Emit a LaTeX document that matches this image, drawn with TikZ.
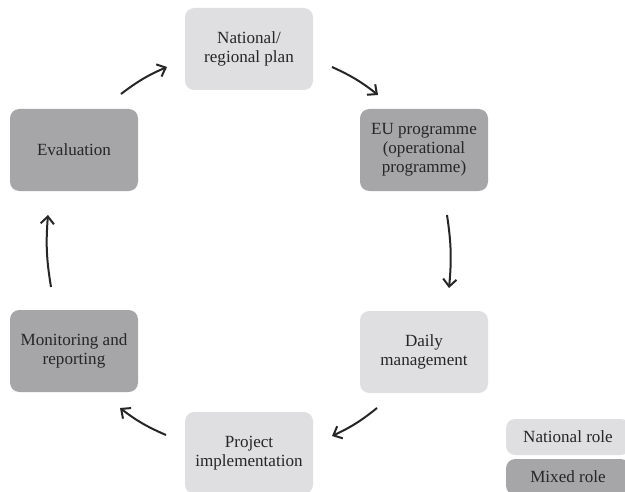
\documentclass[tikz,border=0pt]{standalone}
\usepackage{fontspec}
\setmainfont{Liberation Serif}
\usetikzlibrary{arrows.meta}
\definecolor{natgray}{RGB}{223,223,225}
\definecolor{mixgray}{RGB}{166,166,169}
\definecolor{ink}{RGB}{38,38,38}
\begin{document}
\begin{tikzpicture}[x=0.75pt,y=-0.75pt,
	box/.style={rounded corners=7pt,minimum width=96pt,minimum height=61.5pt,
		align=center,text=ink,font=\fontsize{12.8}{14.3}\selectfont},
	natbox/.style={box,fill=natgray},
	mixbox/.style={box,fill=mixgray},
	keybox/.style={box,minimum width=93pt,minimum height=27pt},
	flow/.style={line width=1.5pt,ink,-{Straight Barb[length=5.5pt,width=10pt]}}]
	\clip (0,0) rectangle (625,492);
	\fill[white] (0,0) rectangle (625,492);
	% Zyklus
	\node[natbox] (nat) at (249,49) {National/\\regional plan};
	\node[mixbox] (eu) at (424,150) {EU programme\\(operational\\programme)};
	\node[natbox] (daily) at (424,352) {Daily\\management};
	\node[natbox] (proj) at (249,453) {Project\\implementation};
	\node[mixbox] (mon) at (74,351) {Monitoring and\\reporting};
	\node[mixbox] (eval) at (74,150) {Evaluation};
	% Legende
	\node[keybox,fill=natgray] (natkey) at (568,437) {National role};
	\node[keybox,fill=mixgray] (mixkey) at (568,477) {Mixed role};
	% Pfeile
	\coordinate (a1s) at (121,94);  \coordinate (a1e) at (167,67);
	\coordinate (a2s) at (332,67);  \coordinate (a2e) at (378,95);
	\coordinate (a3s) at (447,215); \coordinate (a3e) at (449,288);
	\coordinate (a4s) at (377,408); \coordinate (a4e) at (332,436);
	\coordinate (a5s) at (166,435); \coordinate (a5e) at (120,408);
	\coordinate (a6s) at (51,287);  \coordinate (a6e) at (48,215);
	\foreach \i in {1,...,6}
		\draw[flow] (a\i s) to[bend left=7] (a\i e);
\end{tikzpicture}
\end{document}
